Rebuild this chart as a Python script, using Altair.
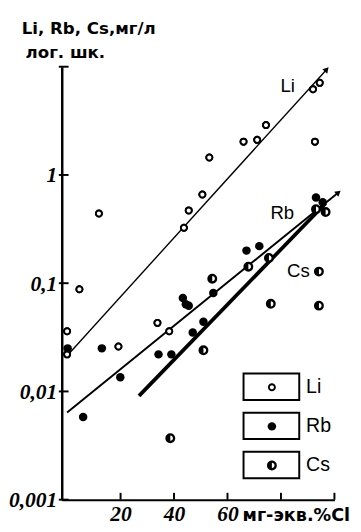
import altair as alt
import pandas as pd

# ---------------- data ----------------
li_x = [0.0, 0.0, 4.6, 11.9, 19.2, 33.8, 38.2, 43.7, 45.5, 50.6, 53.2, 66.0, 71.1, 74.4, 92.0, 94.5, 92.7]
li_y = [0.036, 0.022, 0.088, 0.44, 0.026, 0.043, 0.036, 0.325, 0.47, 0.66, 1.45, 2.03, 2.11, 2.89, 6.2, 7.1, 2.03]

rb_x = [0.2, 6.0, 13.0, 19.9, 34.2, 39.0, 43.3, 44.4, 45.5, 47.0, 51.0, 54.7, 67.1, 71.9, 93.1, 95.6]
rb_y = [0.025, 0.0058, 0.025, 0.0135, 0.022, 0.022, 0.073, 0.064, 0.062, 0.035, 0.044, 0.081, 0.20, 0.22, 0.62, 0.56]

cs_x = [38.6, 51.0, 54.3, 67.8, 75.5, 76.2, 94.2, 94.2, 93.1, 96.7]
cs_y = [0.0037, 0.024, 0.11, 0.142, 0.171, 0.0645, 0.128, 0.062, 0.483, 0.454]

# trend lines (start / end)
line_names = ["Li", "Rb", "Cs"]
line_x0 = [0.0, 0.0, 26.9]
line_y0 = [0.0214, 0.0064, 0.0091]
line_x1 = [97.1, 101.5, 96.7]
line_y1 = [9.44, 0.688, 0.547]

# line labels
label_text = ["Li", "Rb", "Cs"]
label_x = [82.5, 80.5, 86.5]
label_y = [6.6, 0.44, 0.13]

x_ticks = [20, 40, 60, 80, 100]
x_labels = [20, 40, 60]
y_ticks = [0.001, 0.01, 0.1, 1, 10]
y_labels = [0.001, 0.01, 0.1, 1]

title_lines = ["Li, Rb, Cs,мг/л", "лог. шк."]
x_title = "мг-экв.%Cl"
legend_labels = ["Li", "Rb", "Cs"]

# ---------------- chart ----------------
W, H = 279, 443
xs = alt.Scale(domain=[-2, 100], nice=False, zero=False)
ys = alt.Scale(type="log", domain=[0.001, 10], nice=False)

LABEL_FONT = "Liberation Sans Narrow"
HALF = "M0,-1A1,1,0,0,0,0,1Z"

li_df = pd.DataFrame({"x": li_x, "y": li_y})
rb_df = pd.DataFrame({"x": rb_x, "y": rb_y})
cs_df = pd.DataFrame({"x": cs_x, "y": cs_y})
lines_df = pd.DataFrame({"name": line_names, "x0": line_x0, "y0": line_y0,
                         "x1": line_x1, "y1": line_y1})

xaxis = alt.Axis(values=x_labels, title=None, grid=False, ticks=False,
                 domainColor="black", domainWidth=2, labelFont=LABEL_FONT,
                 labelFontStyle="italic", labelFontWeight="bold", labelFontSize=22,
                 labelColor="black", labelPadding=4, labelFlush=False, labelBaseline="top")
yaxis = alt.Axis(values=y_labels, title=None, grid=False, ticks=False,
                 domainColor="black", domainWidth=2.5, labelFont=LABEL_FONT,
                 labelFontStyle="italic", labelFontWeight="bold", labelFontSize=22,
                 labelColor="black", labelPadding=5, labelFlush=False,
                 labelExpr="replace(toString(datum.value), '.', ',')")

layers = []

# axes carrier + Li points
layers.append(
    alt.Chart(li_df).mark_point(shape="circle", filled=True, fill="white", stroke="black",
                                strokeWidth=2, size=38, opacity=1).encode(
        x=alt.X("x:Q", scale=xs, axis=xaxis),
        y=alt.Y("y:Q", scale=ys, axis=yaxis),
    )
)

# trend lines
widths = {"Li": 1.4, "Rb": 2.0, "Cs": 3.8}
for nm in line_names:
    layers.append(
        alt.Chart(lines_df).transform_filter(alt.datum.name == nm).mark_rule(
            color="black", strokeWidth=widths[nm]).encode(
            x=alt.X("x0:Q", scale=xs), x2="x1:Q",
            y=alt.Y("y0:Q", scale=ys), y2="y1:Q")
    )

# arrow heads on Li and Rb lines
angles = {"Li": 42, "Rb": 51}
for nm, ang in angles.items():
    layers.append(
        alt.Chart(lines_df).transform_filter(alt.datum.name == nm).mark_point(
            shape="triangle-up", filled=True, color="black", size=45, angle=ang, opacity=1).encode(
            x=alt.X("x1:Q", scale=xs), y=alt.Y("y1:Q", scale=ys))
    )

# redraw Li points above lines
layers.append(
    alt.Chart(li_df).mark_point(shape="circle", filled=True, fill="white", stroke="black",
                                strokeWidth=2, size=38, opacity=1).encode(
        x=alt.X("x:Q", scale=xs), y=alt.Y("y:Q", scale=ys))
)
# Rb points
layers.append(
    alt.Chart(rb_df).mark_point(shape="circle", filled=True, color="black", size=75, opacity=1).encode(
        x=alt.X("x:Q", scale=xs), y=alt.Y("y:Q", scale=ys))
)
# Cs points: ring + left half filled
layers.append(
    alt.Chart(cs_df).mark_point(shape="circle", filled=True, fill="white", stroke="black",
                                strokeWidth=2.4, size=60, opacity=1).encode(
        x=alt.X("x:Q", scale=xs), y=alt.Y("y:Q", scale=ys))
)
layers.append(
    alt.Chart(cs_df).mark_point(shape=HALF, filled=True, color="black", size=60, opacity=1).encode(
        x=alt.X("x:Q", scale=xs), y=alt.Y("y:Q", scale=ys))
)

# inward ticks
layers.append(
    alt.Chart(pd.DataFrame({"v": y_ticks})).mark_rule(color="black", strokeWidth=2).encode(
        y=alt.Y("v:Q", scale=ys), x=alt.value(-3), x2=alt.value(7))
)
layers.append(
    alt.Chart(pd.DataFrame({"v": x_ticks})).mark_rule(color="black", strokeWidth=2).encode(
        x=alt.X("v:Q", scale=xs), y=alt.value(H), y2=alt.value(H - 7))
)

# line labels
layers.append(
    alt.Chart(pd.DataFrame({"t": label_text, "x": label_x, "y": label_y})).mark_text(
        font="Liberation Sans", fontSize=19, color="black", align="center", baseline="middle").encode(
        x=alt.X("x:Q", scale=xs), y=alt.Y("y:Q", scale=ys), text="t:N")
)

# titles
layers.append(
    alt.Chart(pd.DataFrame({"t": [title_lines[0]]})).mark_text(
        font="DejaVu Sans", fontWeight="bold", fontSize=17, color="black",
        align="left", baseline="alphabetic").encode(
        x=alt.value(-41), y=alt.value(-33), text="t:N")
)
layers.append(
    alt.Chart(pd.DataFrame({"t": [title_lines[1]]})).mark_text(
        font="DejaVu Sans", fontWeight="bold", fontSize=17, color="black",
        align="left", baseline="alphabetic").encode(
        x=alt.value(-37), y=alt.value(-9), text="t:N")
)
layers.append(
    alt.Chart(pd.DataFrame({"t": [x_title]})).mark_text(
        font="DejaVu Sans", fontWeight="bold", fontSize=18, color="black",
        align="left", baseline="middle").encode(
        x=alt.value(185), y=alt.value(17 + H), text="t:N")
)

# legend boxes
for i, nm in enumerate(legend_labels):
    top = 314 + 40 * i
    d = pd.DataFrame({"t": [nm]})
    layers.append(
        alt.Chart(d).mark_rect(fill="white", stroke="black", strokeWidth=2).encode(
            x=alt.value(186), x2=alt.value(243), y=alt.value(top), y2=alt.value(top + 27))
    )
    cy = top + 14
    if nm == "Li":
        layers.append(alt.Chart(d).mark_point(shape="circle", filled=True, fill="white", stroke="black",
                                              strokeWidth=2, size=38, opacity=1).encode(
            x=alt.value(215), y=alt.value(cy)))
    elif nm == "Rb":
        layers.append(alt.Chart(d).mark_point(shape="circle", filled=True, color="black",
                                              size=75, opacity=1).encode(
            x=alt.value(215), y=alt.value(cy)))
    else:
        layers.append(alt.Chart(d).mark_point(shape="circle", filled=True, fill="white", stroke="black",
                                              strokeWidth=2.4, size=60, opacity=1).encode(
            x=alt.value(215), y=alt.value(cy)))
        layers.append(alt.Chart(d).mark_point(shape=HALF, filled=True, color="black",
                                              size=60, opacity=1).encode(
            x=alt.value(215), y=alt.value(cy)))
    layers.append(
        alt.Chart(d).mark_text(font="Liberation Sans", fontSize=20, color="black",
                               align="left", baseline="middle").encode(
            x=alt.value(250), y=alt.value(cy), text="t:N")
    )

chart = alt.layer(*layers).properties(
    width=W, height=H,
    autosize=alt.AutoSizeParams(type="none"),
    padding={"left": 55, "top": 54, "right": 19, "bottom": 27},
).configure_view(stroke=None)

chart.save("out.html", embed_options={"renderer": "svg", "actions": False})
